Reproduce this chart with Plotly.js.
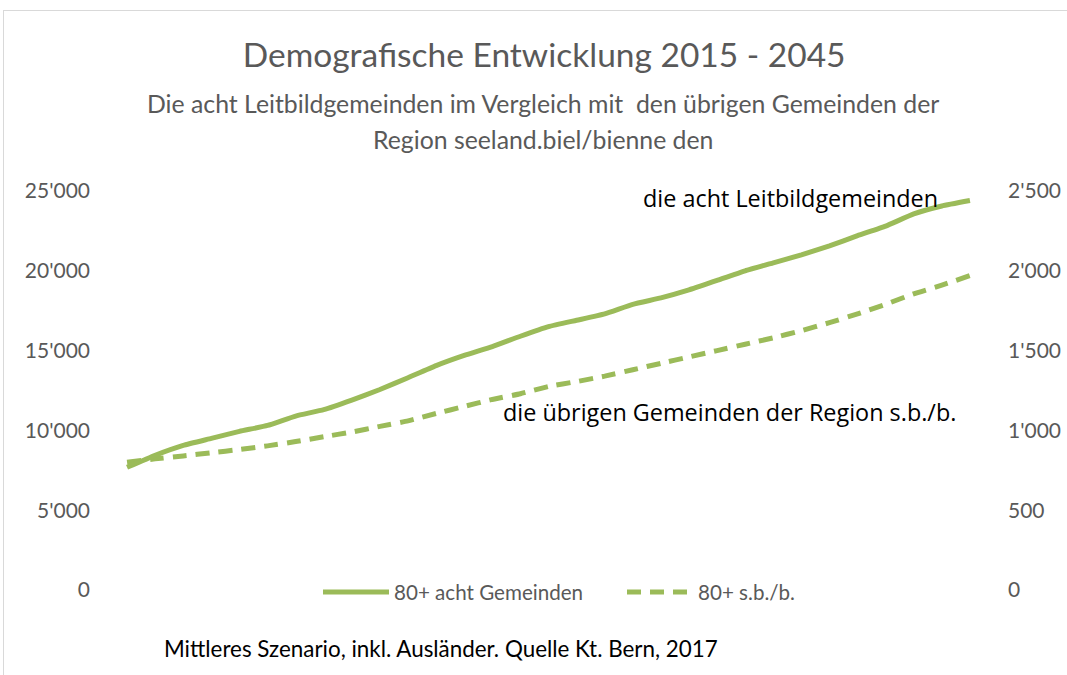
<!DOCTYPE html>
<html>
<head>
<meta charset="utf-8">
<script src="https://cdn.plot.ly/plotly-3.0.1.min.js"></script>
<style>
  html, body { margin: 0; padding: 0; background: #fff; }
  #frame { position: absolute; left: 3px; top: 10px; width: 1100px; height: 700px; border-top: 1px solid #d9d9d9; border-left: 1px solid #d9d9d9; }
  #chart { position: absolute; left: 0; top: 0; width: 1067px; height: 675px; }
</style>
</head>
<body>
<div id="frame"></div>
<div id="chart"></div>
<script>
const years = [2015,2016,2017,2018,2019,2020,2021,2022,2023,2024,2025,2026,2027,2028,2029,2030,
               2031,2032,2033,2034,2035,2036,2037,2038,2039,2040,2041,2042,2043,2044,2045];
// 80+ in den acht Leitbildgemeinden (rechte Achse)
const achtGemeinden = [769,844,906,950,994,1031,1090,1130,1190,1256,1330,1406,1470,1525,1590,1650,
                       1690,1730,1790,1830,1880,1940,2000,2050,2100,2156,2220,2280,2356,2406,2440];
// 80+ übrige Gemeinden der Region s.b./b. (linke Achse)
const uebrige = [8000,8220,8400,8600,8800,9030,9300,9600,9900,10250,10600,11060,11500,11940,12300,12750,
                 13060,13400,13800,14200,14600,15000,15400,15800,16250,16750,17300,17900,18560,19100,19700];
const seriesNames = ['80+ acht Gemeinden', '80+ s.b./b.'];
const leftTicks = [0,5000,10000,15000,20000,25000];
const rightTicks = [0,500,1000,1500,2000,2500];

const green = '#9BBB59';
const gray = '#595959';
const font = 'Lato, "Open Sans", sans-serif';
const font2 = '"Open Sans", Lato, sans-serif';

const traces = [
  { x: years.map(String), y: achtGemeinden, name: seriesNames[0], yaxis: 'y2', type: 'scatter', mode: 'lines',
    line: { color: green, width: 5, shape: 'spline', smoothing: 0.4 } },
  { x: years.map(String), y: uebrige, name: seriesNames[1], yaxis: 'y', type: 'scatter', mode: 'lines',
    line: { color: green, width: 5, dash: '14px,9px', shape: 'spline', smoothing: 0.4 } }
];

const layout = {
  width: 1067, height: 675,
  paper_bgcolor: 'rgba(0,0,0,0)', plot_bgcolor: 'rgba(0,0,0,0)',
  separators: ".'",
  margin: { l: 113, r: 83, t: 191, b: 85 },
  font: { family: font, color: gray },
  showlegend: true,
  title: { text: 'Demografische Entwicklung 2015 - 2045', x: 0.51, xanchor: 'center', y: 1 - 55/675, yanchor: 'middle',
           font: { family: font, size: 33.5, color: gray } },
  xaxis: { type: 'category', range: [-0.5, 30.5], showticklabels: false, ticks: '', showgrid: false, zeroline: false, showline: false, fixedrange: true },
  yaxis: { range: [0, 25000], tickvals: leftTicks, tickformat: ',d', showgrid: false, zeroline: false, showline: false,
           ticklabelstandoff: 22, tickfont: { size: 21, color: gray, family: font } },
  yaxis2: { range: [0, 2500], tickvals: rightTicks, tickformat: ',d', overlaying: 'y', side: 'right', showgrid: false, zeroline: false, showline: false,
            ticklabelstandoff: 23, tickfont: { size: 21, color: gray, family: font } },
  legend: { orientation: 'h', x: (318 - 113)/871, xanchor: 'left', y: -0.005, yanchor: 'middle', font: { size: 20.6, color: gray, family: font },
            itemwidth: 66, entrywidth: 223, bgcolor: 'rgba(0,0,0,0)' },
  annotations: [
    { text: 'Die acht Leitbildgemeinden im Vergleich mit  den übrigen Gemeinden der', xref: 'paper', yref: 'paper',
      x: (543 - 113)/871, y: (590 - 104)/399, xanchor: 'center', yanchor: 'middle', showarrow: false, font: { size: 24.8, color: gray, family: font } },
    { text: 'Region seeland.biel/bienne den', xref: 'paper', yref: 'paper',
      x: (543 - 113)/871, y: (590 - 140)/399, xanchor: 'center', yanchor: 'middle', showarrow: false, font: { size: 24.8, color: gray, family: font } },
    { text: 'die acht Leitbildgemeinden', xref: 'paper', yref: 'paper',
      x: (790 - 113)/871, y: (590 - 198)/399, xanchor: 'center', yanchor: 'middle', showarrow: false, font: { size: 23.4, color: '#000', family: font2 } },
    { text: 'die übrigen Gemeinden der Region s.b./b.', xref: 'paper', yref: 'paper',
      x: (729 - 113)/871, y: (590 - 412)/399, xanchor: 'center', yanchor: 'middle', showarrow: false, font: { size: 23.4, color: '#000', family: font2 } },
    { text: 'Mittleres Szenario, inkl. Ausländer. Quelle Kt. Bern, 2017', xref: 'paper', yref: 'paper',
      x: (441 - 113)/871, y: (590 - 648)/399, xanchor: 'center', yanchor: 'middle', showarrow: false, font: { size: 22.4, color: '#000', family: font } }
  ]
};

Plotly.newPlot('chart', traces, layout, { staticPlot: true });
</script>
</body>
</html>
